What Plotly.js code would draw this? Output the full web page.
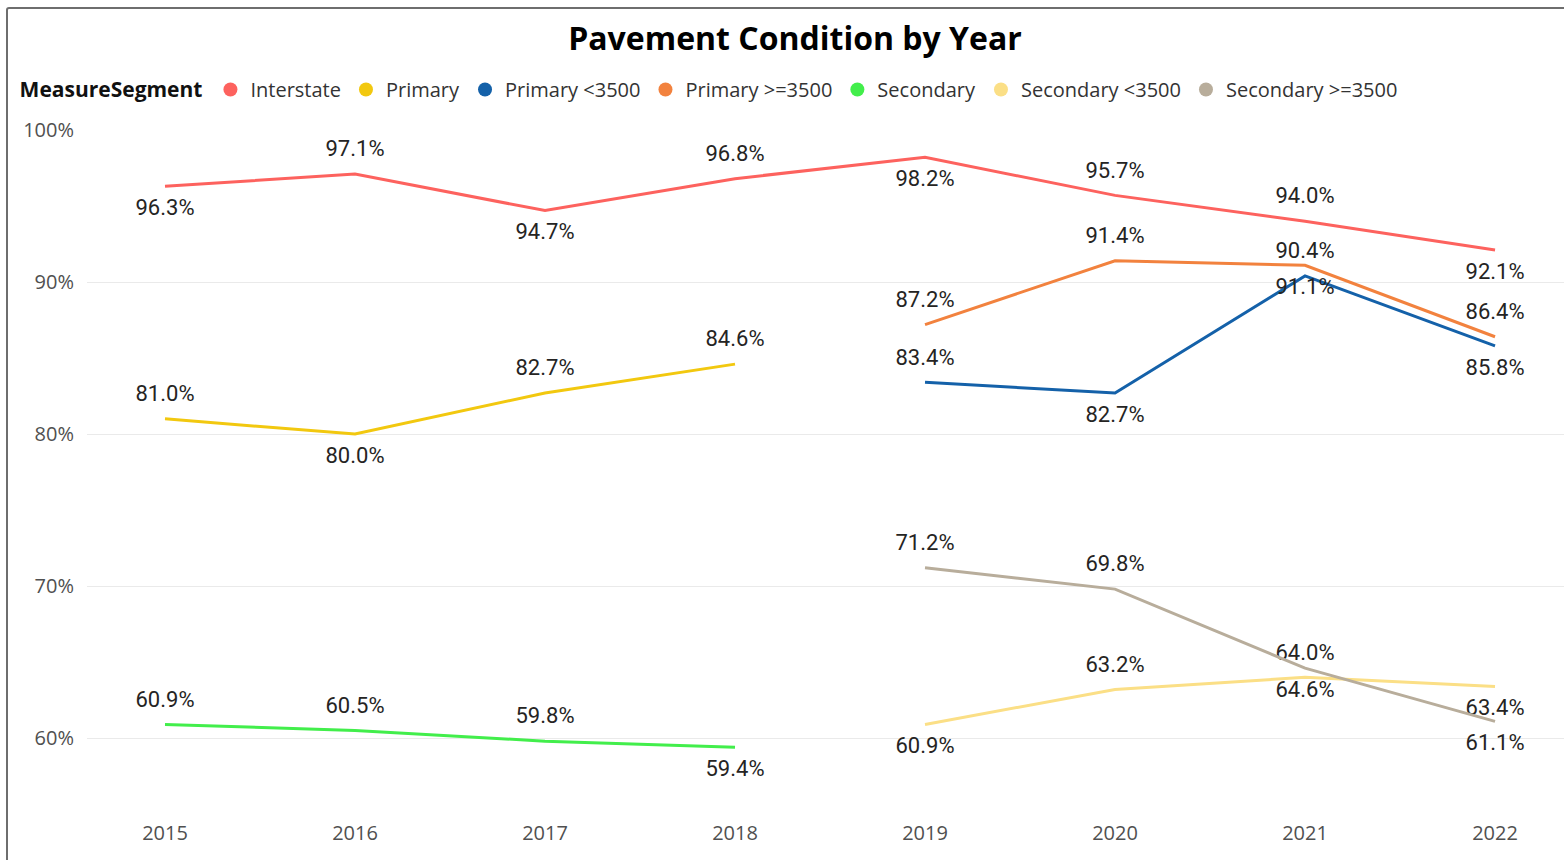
<!DOCTYPE html>
<html>
<head>
<meta charset="utf-8">
<script src="https://cdn.plot.ly/plotly-3.0.1.min.js"></script>
<style>
  html, body { margin: 0; padding: 0; background: #ffffff; overflow: hidden; }
  #chart { position: absolute; left: 0; top: 0; width: 1564px; height: 860px; }
  #frame { position: absolute; left: 6px; top: 7px; width: 1700px; height: 1000px;
           border: 2px solid #6e6e6e; border-radius: 3px; pointer-events: none; }
</style>
</head>
<body>
<div id="chart"></div>
<div id="frame"></div>
<script>
const years = ['2015', '2016', '2017', '2018', '2019', '2020', '2021', '2022'];

const seriesNames = ['Interstate', 'Primary', 'Primary <3500', 'Primary >=3500',
                     'Secondary', 'Secondary <3500', 'Secondary >=3500'];

const interstate     = [96.3, 97.1, 94.7, 96.8, 98.2, 95.7, 94.0, 92.1];
const primary        = [81.0, 80.0, 82.7, 84.6, null, null, null, null];
const primaryLt3500  = [null, null, null, null, 83.4, 82.7, 90.4, 85.8];
const primaryGe3500  = [null, null, null, null, 87.2, 91.4, 91.1, 86.4];
const secondary      = [60.9, 60.5, 59.8, 59.4, null, null, null, null];
const secondaryLt3500 = [null, null, null, null, 60.9, 63.2, 64.0, 63.4];
const secondaryGe3500 = [null, null, null, null, 71.2, 69.8, 64.6, 61.1];

const yTickVals = [60, 70, 80, 90, 100];

const seriesValues = [interstate, primary, primaryLt3500, primaryGe3500,
                      secondary, secondaryLt3500, secondaryGe3500];

const colors = ['#FD625E', '#F2C80F', '#1461A9', '#F2823E', '#42EE4B', '#FBDF86', '#B8AD9B'];

const T = 'top center', B = 'bottom center';
const labelPos = [
  [B, T, B, T, B, T, T, B],
  [T, B, T, T, T, T, T, T],
  [T, T, T, T, T, B, T, B],
  [T, T, T, T, T, T, B, T],
  [T, T, T, B, T, T, T, T],
  [T, T, T, T, B, T, T, B],
  [T, T, T, T, T, T, B, B]
];

const traces = [];
seriesValues.forEach((vals, i) => {
  traces.push({
    type: 'scatter',
    mode: 'lines+markers+text',
    name: seriesNames[i],
    x: years,
    y: vals,
    text: vals.map(v => v == null ? '' : v.toFixed(1) + '%'),
    textposition: labelPos[i],
    textfont: { family: 'Roboto, sans-serif', size: 22, color: '#252423' },
    line: { color: colors[i], width: 3 },
    marker: { size: 18, opacity: 0, color: colors[i] },
    showlegend: false,
    hoverinfo: 'skip',
    cliponaxis: false
  });
});
// legend entries (circle symbols)
seriesNames.forEach((n, i) => {
  traces.push({
    type: 'scatter', mode: 'markers', name: n,
    x: [null], y: [null],
    marker: { size: 14, color: colors[i], symbol: 'circle' },
    showlegend: true, hoverinfo: 'skip'
  });
});

const layout = {
  width: 1564, height: 860,
  margin: { l: 87, r: 0, t: 130, b: 55 },
  paper_bgcolor: 'rgba(0,0,0,0)',
  plot_bgcolor: 'rgba(0,0,0,0)',
  title: {
    text: '<b>Pavement Condition by Year</b>',
    x: 795 / 1564, xanchor: 'center', xref: 'container',
    y: 0.955, yanchor: 'middle', yref: 'container',
    font: { family: '"Open Sans", "Noto Sans", sans-serif', size: 32, color: '#000000' }
  },
  showlegend: true,
  legend: {
    orientation: 'h',
    x: -0.047, xanchor: 'left',
    y: 1.06, yanchor: 'middle',
    itemwidth: 30,
    traceorder: 'normal',
    font: { family: '"Open Sans", "Noto Sans", sans-serif', size: 20, color: '#333333' },
    title: { text: '<b>MeasureSegment</b>', side: 'left',
             font: { family: '"Open Sans", "Noto Sans", sans-serif', size: 21, color: '#111111' } },
    bgcolor: 'rgba(0,0,0,0)'
  },
  xaxis: {
    type: 'category',
    range: [-0.4105, 7.363],
    showgrid: false, zeroline: false, showline: false,
    ticks: '',
    tickfont: { family: '"Open Sans", "Noto Sans", sans-serif', size: 20, color: '#505050' },
    ticklabelstandoff: 14
  },
  yaxis: {
    range: [55.6, 100],
    tickvals: yTickVals,
    ticktext: yTickVals.map(v => v + '%'),
    showgrid: true, gridcolor: '#EAEAEA', gridwidth: 1,
    zeroline: false, showline: false,
    ticks: '',
    tickfont: { family: '"Open Sans", "Noto Sans", sans-serif', size: 20, color: '#505050' },
    ticklabelstandoff: 12
  }
};

Plotly.newPlot('chart', traces, layout, { displayModeBar: false, staticPlot: true });
</script>
</body>
</html>
